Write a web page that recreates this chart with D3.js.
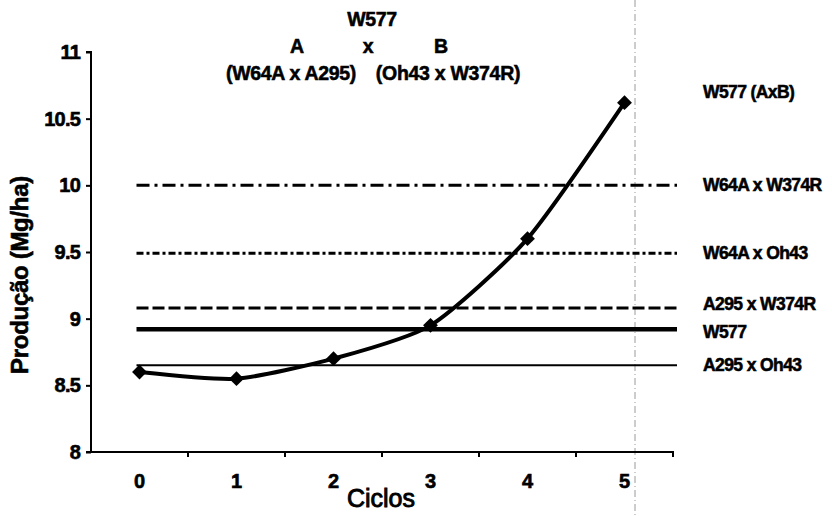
<!DOCTYPE html>
<html><head><meta charset="utf-8">
<script src="https://cdn.jsdelivr.net/npm/d3@7"></script>
<style>
html,body{margin:0;padding:0;background:#fff;}
svg{display:block;font-family:"Liberation Sans",Arial,sans-serif;}
</style></head>
<body><svg id="c" width="832" height="516"></svg>
<script>
// ---- data ----
const cycles = ["0","1","2","3","4","5"];
const w577Values = [8.6, 8.55, 8.7, 8.95, 9.6, 10.62];
const refNames = ["W64A x W374R","W64A x Oh43","A295 x W374R","W577","A295 x Oh43"];
const refValues = [10.0, 9.49, 9.08, 8.92, 8.65];
const refStyles = ["dashdot","dashdotfine","dashed","thick","thin"];
const yTicks = [8, 8.5, 9, 9.5, 10, 10.5, 11];
const seriesLabel = "W577 (AxB)";
const titleLines = ["W577"];
const parentA = ["A","(W64A x A295)"];
const parentB = ["B","(Oh43 x W374R)"];

const svg = d3.select("#c");
const x = d3.scaleBand().domain(cycles).range([91, 673]).padding(0);
const y = d3.scaleLinear().domain([8, 11]).range([452, 52]);
const cx = d => x(d) + x.bandwidth()/2;
const heavy = (sel, w=0.5) => sel.attr("stroke","#000").attr("stroke-width",w).attr("paint-order","stroke");

// scan artifact vertical line
svg.append("line").attr("x1",635).attr("x2",635).attr("y1",0).attr("y2",516)
  .attr("stroke","#9a9a9a").attr("stroke-width",1).attr("stroke-dasharray","7,3,1,3");

// axes
const yAxis = d3.axisLeft(y).tickValues(yTicks).tickSize(5).tickPadding(6)
  .tickFormat(d => String(d));
const gy = svg.append("g").attr("transform","translate(91,0)").call(yAxis);
gy.select(".domain").attr("stroke","#000").attr("stroke-width",2).attr("d","M-5,52H0V452H-5");
gy.selectAll(".tick line").attr("stroke","#000").attr("stroke-width",2);
gy.selectAll(".tick text").attr("font-size",20).attr("font-weight","bold").attr("fill","#000")
  .attr("letter-spacing",-0.8).attr("font-family","'Liberation Sans',Arial,sans-serif").call(heavy, 0.6);

const xAxis = d3.axisBottom(x).tickSize(0).tickPadding(22);
const gx = svg.append("g").attr("transform","translate(0,452)").call(xAxis);
gx.select(".domain").attr("stroke","#000").attr("stroke-width",2).attr("d","M91,0H673V5");
gx.selectAll(".tick text").attr("font-size",20).attr("font-weight","bold").attr("fill","#000")
  .attr("font-family","'Liberation Sans',Arial,sans-serif").call(heavy, 0.6);
// tick marks at band boundaries
svg.append("g").selectAll("line").data(cycles.slice(1)).join("line")
  .attr("x1", d => x(d)).attr("x2", d => x(d)).attr("y1",452).attr("y2",457)
  .attr("stroke","#000").attr("stroke-width",2);

// reference lines
const styleMap = {
  dashdot:{w:3,dash:"13,5,3,5"},
  dashdotfine:{w:3,dash:"7,3,3,3"},
  dashed:{w:3,dash:"12,4"},
  thick:{w:4.5,dash:null},
  thin:{w:2,dash:null}
};
const xStart = cx(cycles[0]) - 3;
const xEnd = x.range()[1] + 4;
refValues.forEach((v,i) => {
  const st = styleMap[refStyles[i]];
  svg.append("line").attr("x1",xStart).attr("x2",xEnd).attr("y1",y(v)).attr("y2",y(v))
    .attr("stroke","#000").attr("stroke-width",st.w)
    .attr("stroke-dasharray",st.dash);
});

// series line
const line = d3.line().x((d,i)=>cx(cycles[i])).y(d=>y(d)).curve(d3.curveCardinal.tension(0.35));
svg.append("path").datum(w577Values).attr("d",line).attr("fill","none")
  .attr("stroke","#000").attr("stroke-width",4);
svg.append("g").selectAll("path").data(w577Values).join("path")
  .attr("d", d3.symbol().type(d3.symbolSquare).size(110))
  .attr("transform",(d,i)=>`translate(${cx(cycles[i])},${y(d)}) rotate(45)`)
  .attr("fill","#000");

// right labels
const rl = svg.append("g").attr("font-weight","bold").attr("font-size",17.5)
  .attr("letter-spacing",-0.6).call(heavy, 0.55);
rl.append("text").attr("x",703).attr("y",y(w577Values[5])-11).attr("dy","0.35em").text(seriesLabel);
const labelY = [y(refValues[0]), y(refValues[1]), y(refValues[2])-4, y(refValues[3])+3, y(refValues[4])];
refNames.forEach((n,i)=>{
  rl.append("text").attr("x",703).attr("y",labelY[i]).attr("dy","0.35em").text(n);
});

// title block
const tg = svg.append("g").attr("font-weight","bold").attr("font-size",19.5)
  .attr("text-anchor","middle").attr("letter-spacing",-0.3).call(heavy, 0.55);
tg.append("text").attr("x",372).attr("y",26).text(titleLines[0]);
tg.append("text").attr("x",297).attr("y",53).text(parentA[0]);
tg.append("text").attr("x",368).attr("y",53).text("x");
tg.append("text").attr("x",441).attr("y",53).text(parentB[0]);
tg.append("text").attr("x",291).attr("y",80).text(parentA[1]);
tg.append("text").attr("x",448).attr("y",80).text(parentB[1]);

// axis titles
svg.append("text").attr("transform","translate(28,275) rotate(-90)")
  .attr("text-anchor","middle").attr("font-size",24).attr("font-weight","bold")
  .attr("letter-spacing",-0.3).call(heavy, 0.6)
  .text("Produção (Mg/ha)");
svg.append("text").attr("x",381).attr("y",507).attr("text-anchor","middle")
  .attr("font-size",25).call(heavy, 0.9).text("Ciclos");
</script></body></html>
